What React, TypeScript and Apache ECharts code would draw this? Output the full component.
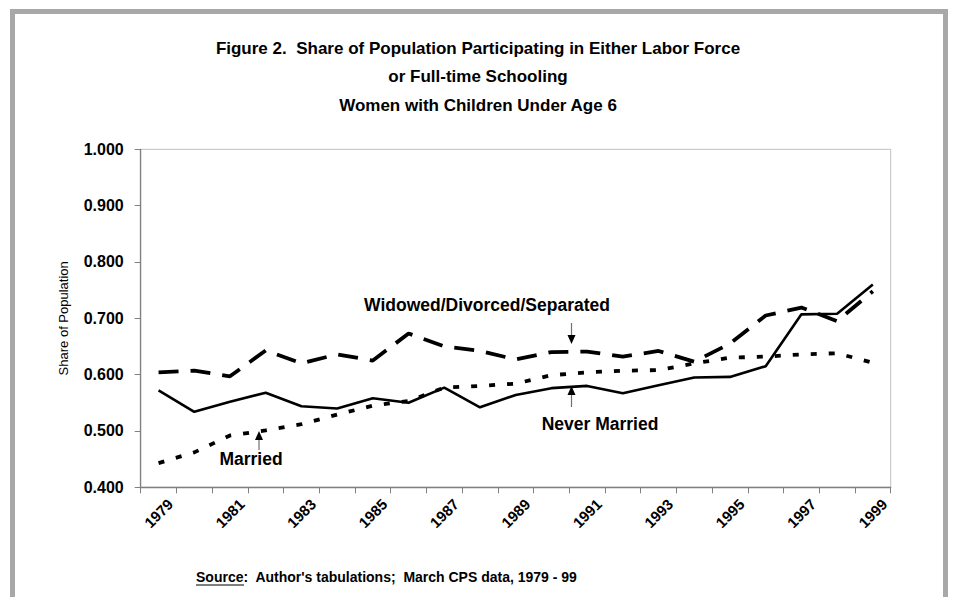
import React, { useEffect, useRef } from "react";
import * as echarts from "echarts";

const years = [
  "1979", "1980", "1981", "1982", "1983", "1984", "1985", "1986", "1987", "1988",
  "1989", "1990", "1991", "1992", "1993", "1994", "1995", "1996", "1997", "1998", "1999",
];
const neverMarried = [
  0.572, 0.534, 0.552, 0.568, 0.544, 0.540, 0.558, 0.550, 0.577, 0.542,
  0.564, 0.576, 0.580, 0.567, 0.581, 0.595, 0.596, 0.615, 0.707, 0.708, 0.760,
];
const widowedDivorcedSeparated = [
  0.604, 0.607, 0.597, 0.643, 0.620, 0.636, 0.625, 0.673, 0.650, 0.642,
  0.627, 0.640, 0.641, 0.632, 0.642, 0.623, 0.655, 0.705, 0.719, 0.695, 0.748,
];
const married = [
  0.443, 0.462, 0.492, 0.501, 0.512, 0.529, 0.545, 0.553, 0.577, 0.580,
  0.584, 0.599, 0.604, 0.607, 0.608, 0.620, 0.630, 0.632, 0.636, 0.638, 0.621,
];
const titleLines = [
  "Figure 2.  Share of Population Participating in Either Labor Force",
  "or Full-time Schooling",
  "Women with Children Under Age 6",
];
const yAxisName = "Share of Population";
const sourceLabel = "Source";
const sourceRest = ":  Author's tabulations;  March CPS data, 1979 - 99";

const FONT = "'Liberation Sans', Arial, sans-serif";

export default function App() {
  const ref = useRef<HTMLDivElement>(null);
  useEffect(() => {
    if (!ref.current) return;
    const chart = echarts.init(ref.current, null, { renderer: "svg" });
    const arrow = (x: number, y1: number, y2: number, tipY: number) => {
      const dir = tipY > y2 ? 1 : -1;
      return [
        { type: "line", shape: { x1: x, y1, x2: x, y2 }, style: { stroke: "#707070", lineWidth: 1.2 } },
        {
          type: "polygon",
          shape: { points: [[x - 4, tipY - dir * 9], [x + 4, tipY - dir * 9], [x, tipY]] },
          style: { fill: "#000" },
        },
      ];
    };
    chart.setOption({
      animation: false,
      backgroundColor: "#fff",
      title: {
        text: titleLines.join("\n"),
        left: "center",
        top: 29,
        textStyle: { fontFamily: FONT, fontSize: 17, fontWeight: "bold", color: "#000", lineHeight: 28.5 },
      },
      grid: {
        left: 140.7,
        right: 65.3,
        top: 149.3,
        bottom: 109.7,
        show: true,
        borderColor: "#c0c0c0",
        borderWidth: 1,
        backgroundColor: "#fff",
      },
      xAxis: {
        type: "category",
        data: years,
        boundaryGap: true,
        axisLine: { lineStyle: { color: "#808080", width: 1.3 } },
        axisTick: { show: true, interval: 0, length: 6, lineStyle: { color: "#808080" } },
        axisLabel: {
          interval: 1,
          rotate: 45,
          margin: 26,
          align: "center",
          verticalAlign: "middle",
          fontFamily: FONT,
          fontSize: 15,
          fontWeight: "bold",
          color: "#000",
        },
        splitLine: { show: false },
      },
      yAxis: {
        type: "value",
        min: 0.4,
        max: 1.0,
        interval: 0.1,
        name: yAxisName,
        nameLocation: "middle",
        nameRotate: 90,
        nameGap: 71,
        nameTextStyle: { fontFamily: FONT, fontSize: 13, color: "#000" },
        axisLine: { show: true, lineStyle: { color: "#808080", width: 1.3 } },
        axisTick: { show: true, length: 6, lineStyle: { color: "#808080" } },
        axisLabel: {
          formatter: (v: number) => v.toFixed(3),
          margin: 17,
          fontFamily: FONT,
          fontSize: 16,
          fontWeight: "bold",
          color: "#000",
        },
        splitLine: { show: false },
      },
      series: [
        {
          name: "Widowed/Divorced/Separated",
          type: "line",
          data: widowedDivorcedSeparated,
          symbol: "none",
          lineStyle: { color: "#000", width: 3.8, type: [20, 12], cap: "butt" },
          z: 3,
        },
        {
          name: "Married",
          type: "line",
          data: married,
          symbol: "none",
          lineStyle: { color: "#000", width: 3.8, type: [6, 12], cap: "butt" },
          z: 2,
        },
        {
          name: "Never Married",
          type: "line",
          data: neverMarried,
          symbol: "none",
          lineStyle: { color: "#000", width: 2.6, type: "solid" },
          z: 4,
        },
      ],
      graphic: [
        { type: "rect", shape: { x: 10, y: 9, width: 5, height: 600 }, style: { fill: "#a8a8a8" } },
        { type: "rect", shape: { x: 10, y: 9, width: 938, height: 5 }, style: { fill: "#a8a8a8" } },
        { type: "rect", shape: { x: 943, y: 9, width: 5, height: 600 }, style: { fill: "#a8a8a8" } },
        {
          type: "text",
          x: 487,
          y: 305,
          style: {
            text: "Widowed/Divorced/Separated",
            font: `bold 17.5px ${FONT}`,
            fill: "#000",
            align: "center",
            verticalAlign: "middle",
          },
        },
        ...arrow(571.5, 323, 336, 344),
        {
          type: "text",
          x: 600,
          y: 424,
          style: {
            text: "Never Married",
            font: `bold 17.5px ${FONT}`,
            fill: "#000",
            align: "center",
            verticalAlign: "middle",
          },
        },
        ...arrow(571.5, 407, 394, 386),
        {
          type: "text",
          x: 251,
          y: 459,
          style: {
            text: "Married",
            font: `bold 17.5px ${FONT}`,
            fill: "#000",
            align: "center",
            verticalAlign: "middle",
          },
        },
        ...arrow(259, 450, 439, 431),
        {
          type: "text",
          x: 196,
          y: 577,
          style: {
            text: sourceLabel + sourceRest,
            font: `bold 14px ${FONT}`,
            fill: "#000",
            align: "left",
            verticalAlign: "middle",
          },
        },
        { type: "line", shape: { x1: 196, y1: 585, x2: 244, y2: 585 }, style: { stroke: "#000", lineWidth: 1 } },
      ],
    });
    return () => chart.dispose();
  }, []);
  return <div ref={ref} style={{ position: "fixed", left: 0, top: 0, width: 956, height: 597 }} />;
}
